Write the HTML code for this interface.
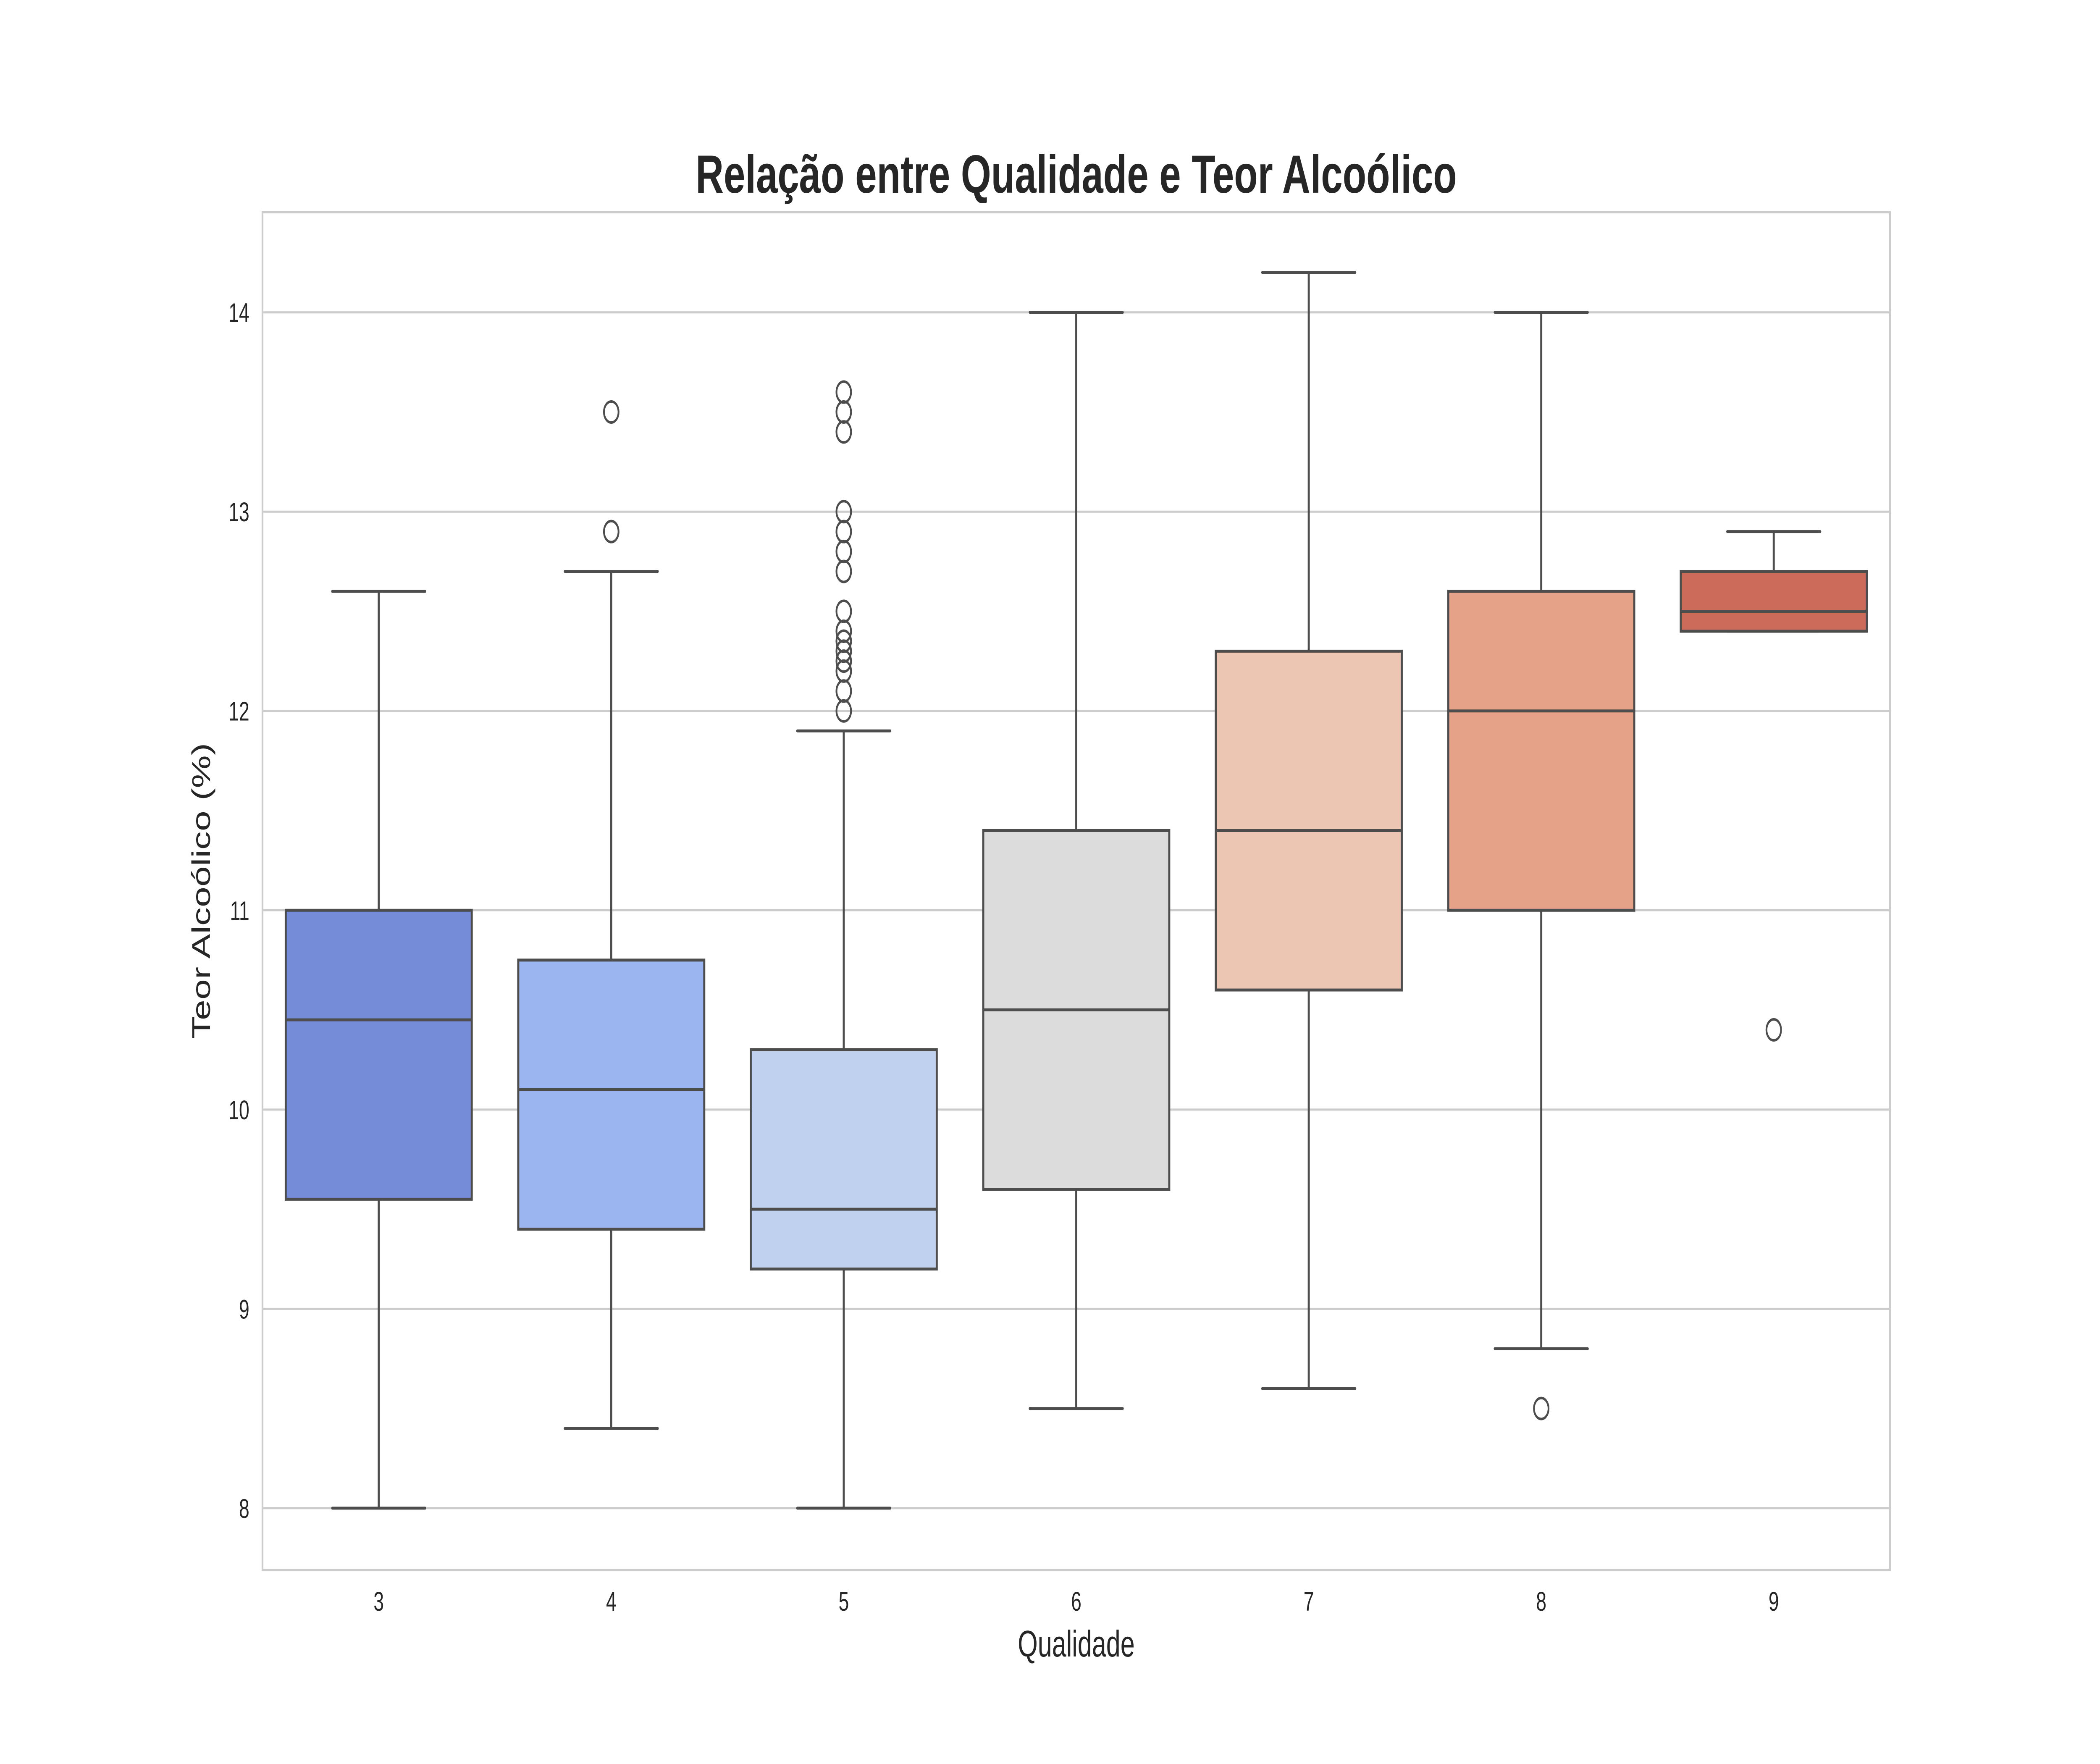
<!DOCTYPE html>
<html><head><meta charset="utf-8"><style>
html,body{margin:0;padding:0;background:#fff;overflow:hidden;width:100%;height:100%;}
svg{display:block;width:100vw;height:100vh;font-family:"Liberation Sans",Arial,sans-serif;}
</style></head><body>
<svg id="chart" viewBox="0 0 7200 4200" preserveAspectRatio="none">
<rect width="7200" height="4200" fill="#fff"/>
<g id="grid"></g>
<g id="boxes"></g>
<rect x="900" y="505" width="5580" height="3233" fill="none" stroke="#cccccc" stroke-width="6"/>
<g id="ticks"></g>
<text x="3690" y="459" text-anchor="middle" font-size="128" font-weight="bold" fill="#262626" textLength="2610" lengthAdjust="spacingAndGlyphs">Relação entre Qualidade e Teor Alcoólico</text>
<text x="3690" y="3944" text-anchor="middle" font-size="88" fill="#262626">Qualidade</text>
<text x="0" y="0" transform="translate(720,2121) rotate(-90)" text-anchor="middle" font-size="88" fill="#262626">Teor Alcoólico (%)</text>
</svg>
<script>
const categories = ["3","4","5","6","7","8","9"];
const whiskerLow = [8.0, 8.4, 8.0, 8.5, 8.6, 8.8, 12.4];
const q1 = [9.55, 9.4, 9.2, 9.6, 10.6, 11.0, 12.4];
const medians = [10.45, 10.1, 9.5, 10.5, 11.4, 12.0, 12.5];
const q3 = [11.0, 10.75, 10.3, 11.4, 12.3, 12.6, 12.7];
const whiskerHigh = [12.6, 12.7, 11.9, 14.0, 14.2, 14.0, 12.9];
const outliers = [[], [12.9, 13.5], [12.0,12.1,12.2,12.25,12.3,12.35,12.4,12.5,12.7,12.8,12.9,13.0,13.4,13.5,13.6], [], [], [8.5], [10.4]];
const yTicks = [8, 9, 10, 11, 12, 13, 14];
const colors = ["#758cd9","#9bb5f0","#c0d1f0","#dcdcdc","#ecc5b3","#e5a288","#cd6b5a"];

const NS = "http://www.w3.org/2000/svg";
const plotL = 900, plotR = 6480, plotT = 505, plotB = 3738;
const yMin = 7.69, yMax = 14.503;
function y(v){ return plotB - (v - yMin) / (yMax - yMin) * (plotB - plotT); }
const step = (plotR - plotL) / categories.length;
function x(i){ return plotL + step * (i + 0.5); }
const boxW = step * 0.8;
const LC = "#4d4d4d", LW = 7;

function mk(tag, attrs, parent){
  const el = document.createElementNS(NS, tag);
  for (const k in attrs) el.setAttribute(k, attrs[k]);
  parent.appendChild(el);
  return el;
}
const grid = document.getElementById('grid');
const ticks = document.getElementById('ticks');
const boxes = document.getElementById('boxes');

yTicks.forEach(t => {
  const gl = mk('line', {x1: plotL, x2: plotR, y1: y(t), y2: y(t), stroke: '#cccccc', 'stroke-width': 5}, grid);
  
  
  const tl = mk('text', {x: 855, y: y(t) + 23, 'text-anchor': 'end', 'font-size': 64, fill: '#262626'}, ticks);
  tl.textContent = String(t);
  
  
});

categories.forEach((c, i) => {
  const cx = x(i);
  const g = mk('g', {}, boxes);
  
  
  const w1 = mk('line', {x1: cx, x2: cx, y1: y(q1[i]), y2: y(whiskerLow[i]), stroke: LC, 'stroke-width': LW}, g);
  
  
  const w2 = mk('line', {x1: cx, x2: cx, y1: y(q3[i]), y2: y(whiskerHigh[i]), stroke: LC, 'stroke-width': LW}, g);
  
  
  [whiskerLow[i], whiskerHigh[i]].forEach(v => {
    const cap = mk('line', {x1: cx - boxW/4, x2: cx + boxW/4, y1: y(v), y2: y(v), stroke: LC, 'stroke-width': LW, 'stroke-linecap': 'round'}, g);
    
    
  });
  const r = mk('rect', {x: cx - boxW/2, y: y(q3[i]), width: boxW, height: Math.max(y(q1[i]) - y(q3[i]), 1), fill: colors[i], stroke: LC, 'stroke-width': LW}, g);
  
  
  const m = mk('line', {x1: cx - boxW/2, x2: cx + boxW/2, y1: y(medians[i]), y2: y(medians[i]), stroke: LC, 'stroke-width': LW}, g);
  
  
  outliers[i].forEach(v => {
    const o = mk('circle', {cx: cx, cy: y(v), r: 25, fill: 'none', stroke: LC, 'stroke-width': 6}, g);
    
    
  });
  const xl = mk('text', {x: cx, y: 3835, 'text-anchor': 'middle', 'font-size': 64, fill: '#262626'}, ticks);
  xl.textContent = c;
  
  
});
</script>
</body></html>
